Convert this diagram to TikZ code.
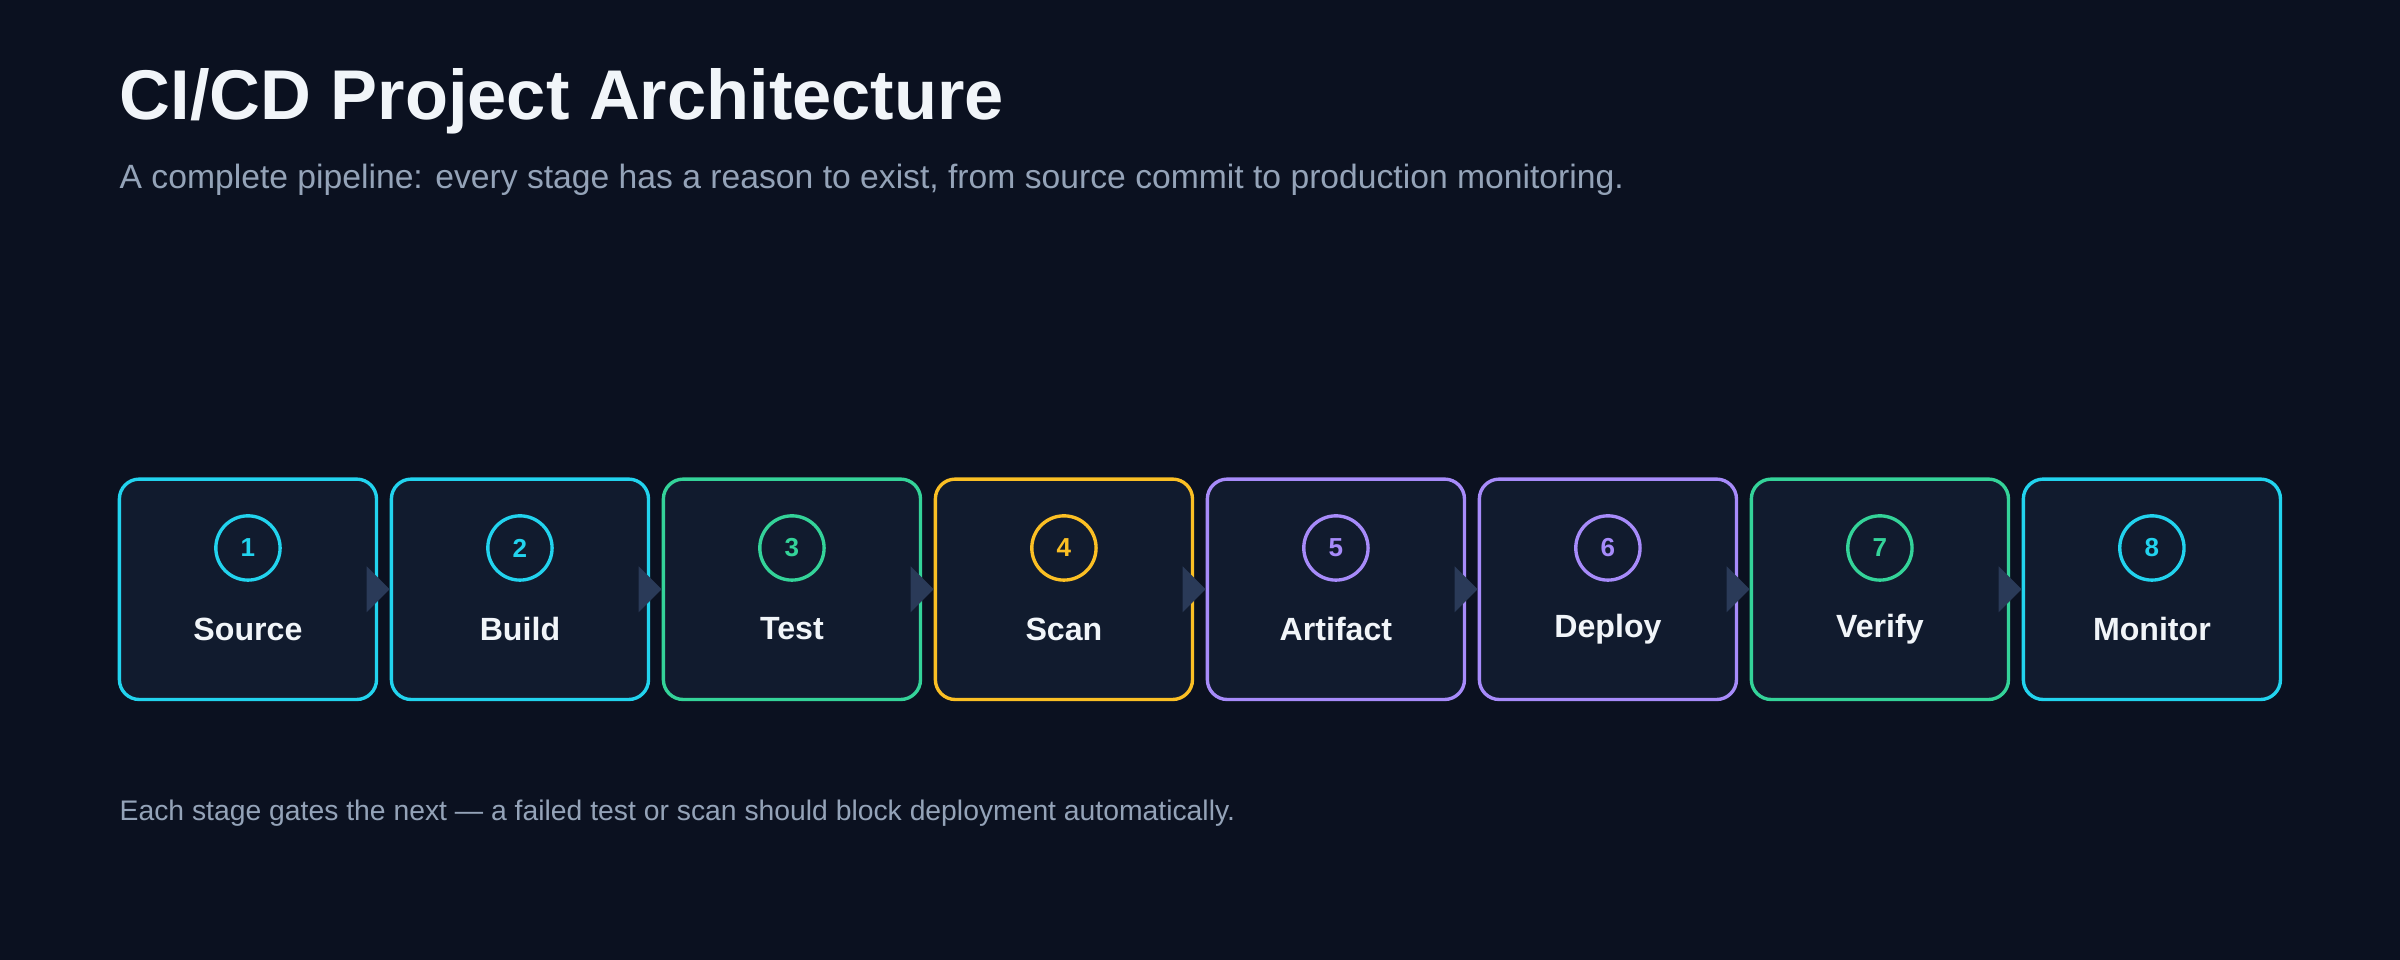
\documentclass[tikz,border=0pt]{standalone}
\usepackage{fontspec}
\setmainfont{Liberation Sans}
\usetikzlibrary{positioning}
\definecolor{bgdark}{HTML}{0B1120}
\definecolor{boxfill}{HTML}{111B2E}
\definecolor{stcyan}{HTML}{22D3EE}
\definecolor{stgreen}{HTML}{34D399}
\definecolor{styellow}{HTML}{FBBF24}
\definecolor{stpurple}{HTML}{A78BFA}
\definecolor{txtwhite}{HTML}{F1F5F9}
\definecolor{txtgray}{HTML}{94A3B8}
\definecolor{gatefill}{HTML}{2A3A58}
\begin{document}
\begin{tikzpicture}[x=1pt, y=-1pt]
  \tikzset{StageStyle/.style = {
  draw = #1,
  fill = boxfill,
  line width = 2.2pt,
  rounded corners = 13pt,
  minimum width = 168pt,
  minimum height = 144pt,
  inner sep = 0pt},
  BadgeStyle/.style = {
  shape = circle,
  draw = #1,
  line width = 2.2pt,
  minimum size = 42pt,
  inner sep = 0pt,
  text = #1,
  font = \bfseries\fontsize{17}{17}\selectfont},
  LabelStyle/.style = {
  text = txtwhite,
  font = \bfseries\fontsize{21}{21}\selectfont}}
  \fill[bgdark] (0,0) rectangle (1568,627);
  \node[anchor=base west, text=txtwhite, inner sep=0pt,
    font=\bfseries\fontsize{46}{46}\selectfont] (title) at (78,78) {CI/CD Project Architecture};
  \node[anchor=base west, text=txtgray, inner sep=0pt,
    font=\fontsize{22}{22}\selectfont] (subtitle) at (78,123)
    {A complete pipeline: every stage has a reason to exist, from source commit to production monitoring.};
  % stages
  \foreach \i/\name/\col in {1/Source/stcyan, 2/Build/stcyan, 3/Test/stgreen,
    4/Scan/styellow, 5/Artifact/stpurple, 6/Deploy/stpurple,
    7/Verify/stgreen, 8/Monitor/stcyan}{
    \node[StageStyle=\col] (s\i) at ({162+177.7*(\i-1)},385) {};
    \node[BadgeStyle=\col] (b\i) at ({162+177.7*(\i-1)},358) {\i};
    \node[LabelStyle] (l\i) at ({162+177.7*(\i-1)},411) {\name};
  }
  % gates between stages
  \foreach \i [evaluate=\i as \j using int(\i+1)] in {1,...,7}{
    \coordinate (g\i) at ([xshift=-15pt]s\j.west);
    \fill[gatefill] ([yshift=-15pt]g\i) -- (s\j.west) -- ([yshift=15pt]g\i) -- cycle;
  }
  \node[anchor=base west, text=txtgray, inner sep=0pt,
    font=\fontsize{18.5}{18.5}\selectfont] (footer) at (78,536)
    {Each stage gates the next — a failed test or scan should block deployment automatically.};
\end{tikzpicture}
\end{document}
